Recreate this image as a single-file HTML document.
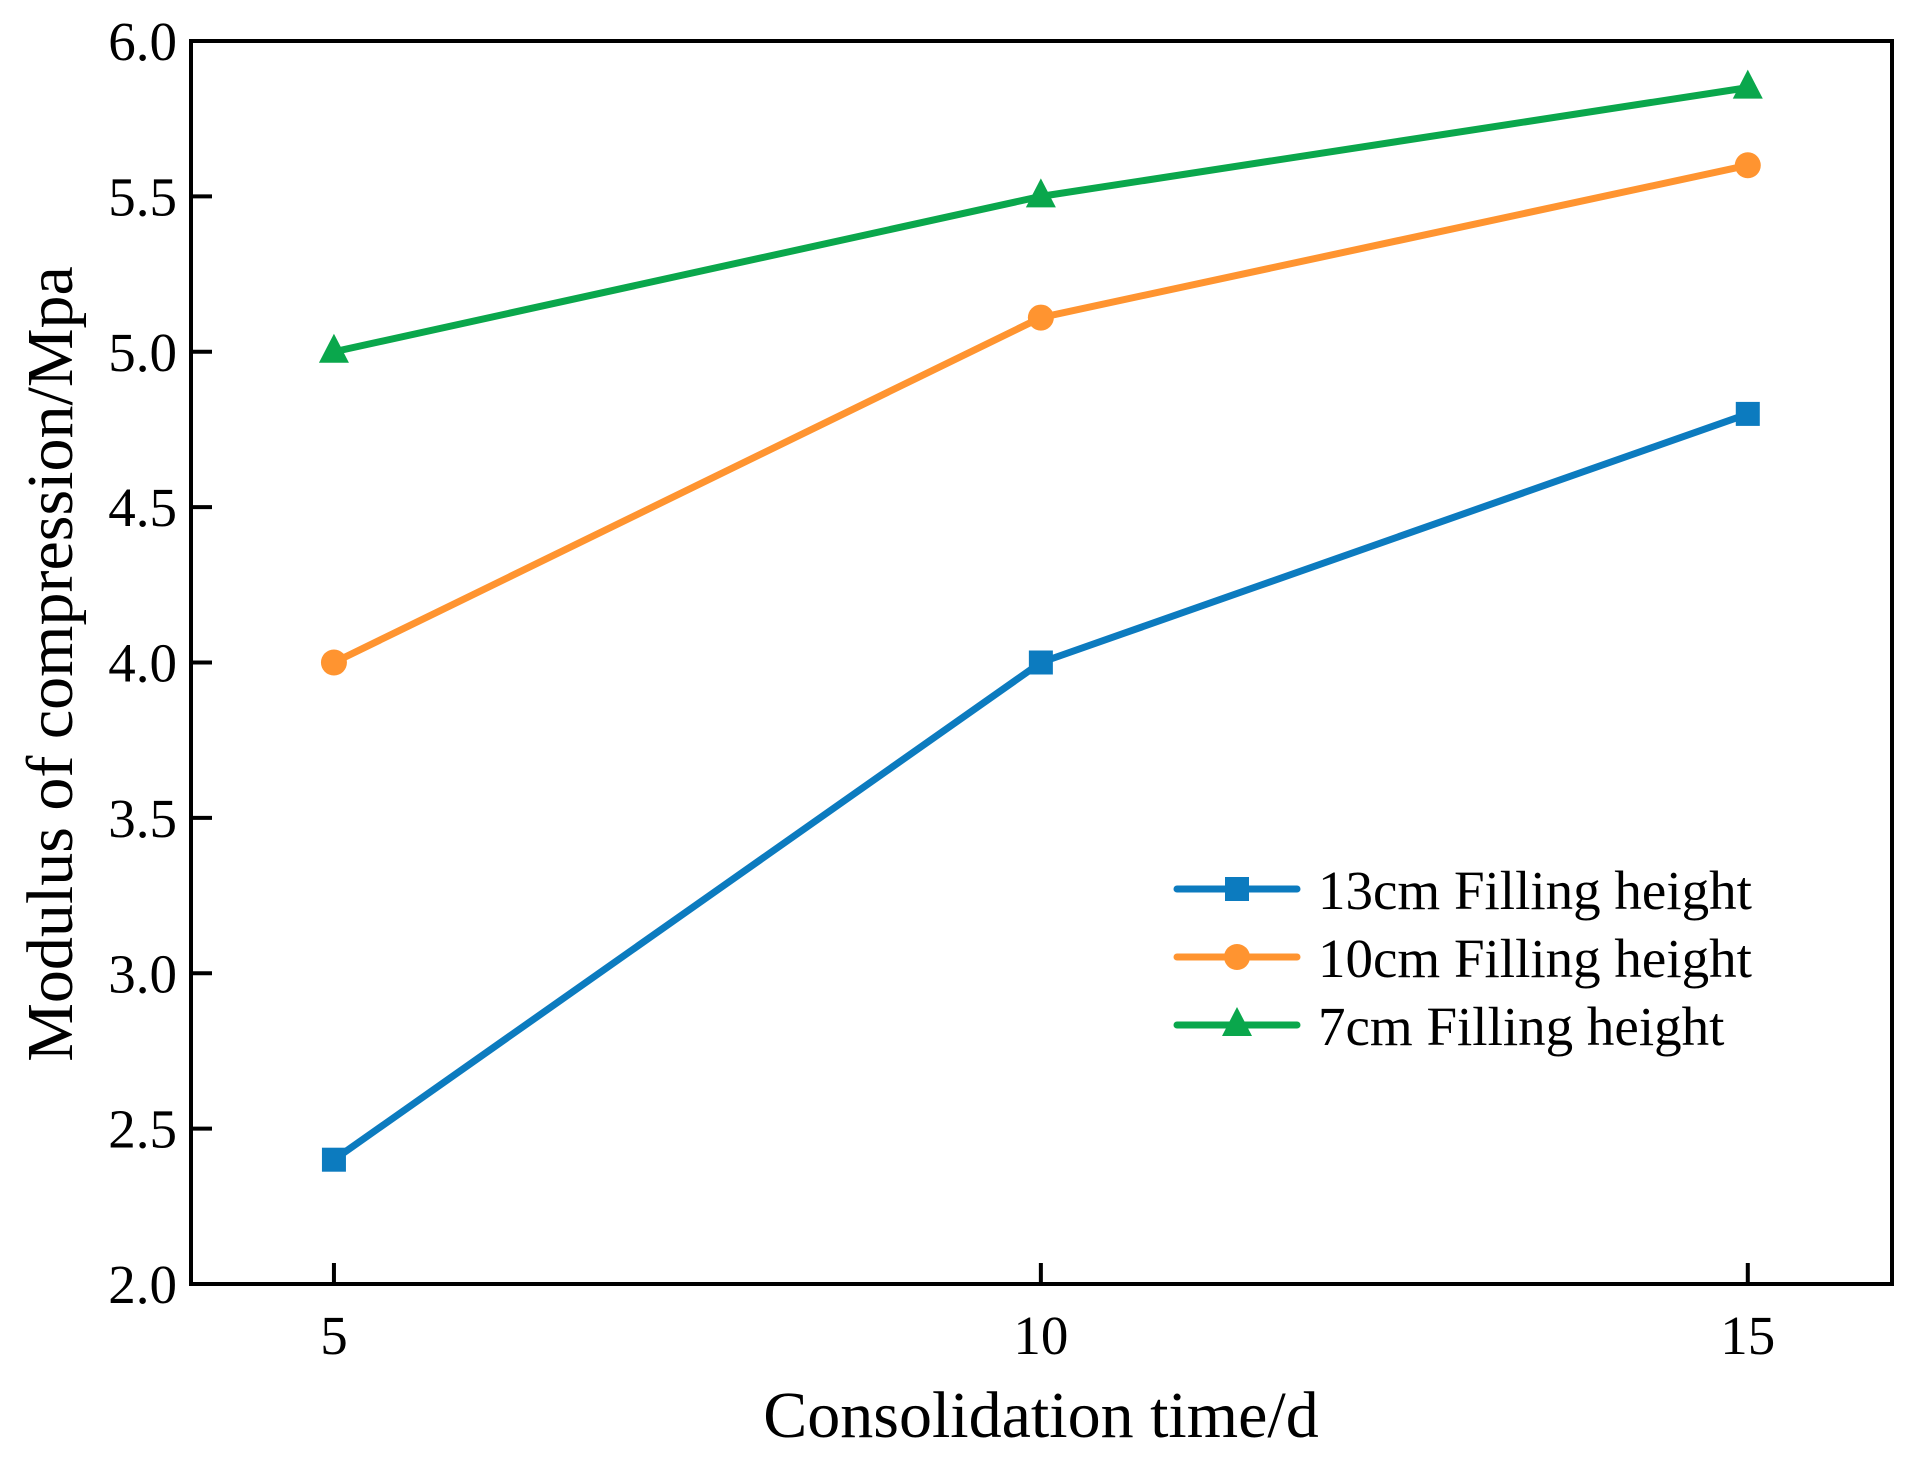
<!DOCTYPE html>
<html><head><meta charset="utf-8"><style>
html,body{margin:0;padding:0;background:#fff;}
svg{display:block;font-family:"Liberation Serif",serif;}
</style></head><body>
<svg id="chart" width="1910" height="1473" viewBox="0 0 1910 1473"></svg>
<script>
const categories=[5,10,15];
const series13=[2.4,4.0,4.8];
const series10=[4.0,5.11,5.6];
const series7=[5.0,5.5,5.85];
const seriesNames=["13cm Filling height","10cm Filling height","7cm Filling height"];
const yTicks=[2.0,2.5,3.0,3.5,4.0,4.5,5.0,5.5,6.0];
const xTicks=[5,10,15];

const NS="http://www.w3.org/2000/svg";
const svg=document.getElementById('chart');
const L=191,R=1892,T=41,B=1284;
const xMin=3.989,xMax=16.02,yMin=2,yMax=6;
function xs(v){return L+(v-xMin)/(xMax-xMin)*(R-L);}
function ys(v){return B-(v-yMin)/(yMax-yMin)*(B-T);}
function mk(tag,attrs,parent){const e=document.createElementNS(NS,tag);for(const k in attrs)e.setAttribute(k,attrs[k]);(parent||svg).appendChild(e);return e;}

const axes=mk('g',{});


const frame=mk('rect',{x:L,y:T,width:R-L,height:B-T,fill:'none',stroke:'#000','stroke-width':4},axes);



yTicks.forEach(v=>{
  const y=ys(v);
  const t=mk('line',{x1:L,x2:L+21,y1:y,y2:y,stroke:'#000','stroke-width':4},axes);
  
  
  const lb=mk('text',{x:177,y:y+19,'text-anchor':'end','font-size':55,fill:'#000'},axes);
  lb.textContent=v.toFixed(1);
  
  
});
xTicks.forEach(v=>{
  const x=xs(v);
  const t=mk('line',{x1:x,x2:x,y1:B,y2:B-21,stroke:'#000','stroke-width':4},axes);
  
  
  const lb=mk('text',{x:x,y:1354,'text-anchor':'middle','font-size':55,fill:'#000'},axes);
  lb.textContent=String(v);
  
  
});
const xt=mk('text',{x:1041,y:1437,'text-anchor':'middle','font-size':66,fill:'#000'});
xt.textContent='Consolidation time/d';


const yt=mk('text',{x:0,y:0,'text-anchor':'middle','font-size':66,fill:'#000',transform:'translate(72,664) rotate(-90)'});
yt.textContent='Modulus of compression/Mpa';



const colors=['#0c7bbf','#ff9430','#0aa74c'];
const shapes=['square','circle','triangle'];
const allSeries=[series13,series10,series7];
function marker(g,shape,x,y,c){
  let m;
  if(shape==='square')m=mk('rect',{x:x-12,y:y-12,width:24,height:24,fill:c},g);
  else if(shape==='circle')m=mk('circle',{cx:x,cy:y,r:13,fill:c},g);
  else m=mk('polygon',{points:`${x},${y-18} ${x+15},${y+11} ${x-15},${y+11}`,fill:c},g);
  return m;
}
allSeries.forEach((vals,i)=>{
  const g=mk('g',{});
  
  
  const pts=vals.map((v,j)=>xs(categories[j])+','+ys(v)).join(' ');
  const pl=mk('polyline',{points:pts,fill:'none',stroke:colors[i],'stroke-width':7,'stroke-linejoin':'round'},g);
  
  
  vals.forEach((v,j)=>{
    const m=marker(g,shapes[i],xs(categories[j]),ys(v),colors[i]);
    
    
  });
});

const lg=mk('g',{});


const rowY=[889,957,1025];
seriesNames.forEach((n,i)=>{
  const y=rowY[i];
  const ln=mk('line',{x1:1177,x2:1297,y1:y,y2:y,stroke:colors[i],'stroke-width':7,'stroke-linecap':'round'},lg);
  
  
  const m=marker(lg,shapes[i],1237,y,colors[i]);
  
  
  const tx=mk('text',{x:1318,y:y+20,'font-size':55,fill:'#000'},lg);
  tx.textContent=n;
  
  
});
</script>
</body></html>
